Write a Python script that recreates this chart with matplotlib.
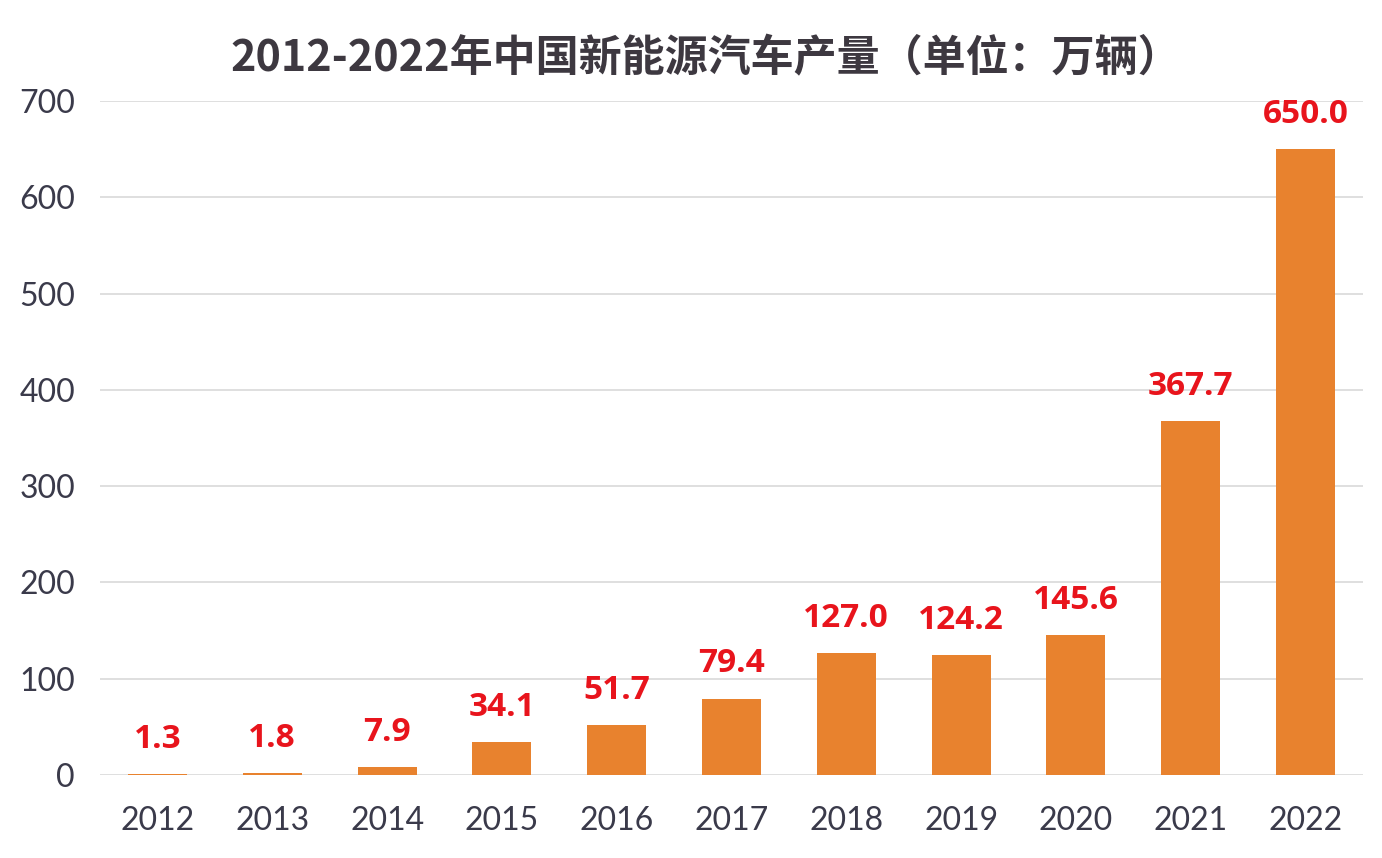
import numpy as np
import matplotlib
matplotlib.use("Agg")
import matplotlib.pyplot as plt

plt.rcParams['font.family'] = ['Noto Sans CJK SC', 'DejaVu Sans']

years = ['2012', '2013', '2014', '2015', '2016', '2017', '2018', '2019', '2020', '2021', '2022']
output = [1.3, 1.8, 7.9, 34.1, 51.7, 79.4, 127.0, 124.2, 145.6, 367.7, 650.0]
yticks = [0, 100, 200, 300, 400, 500, 600, 700]
title = '2012-2022年中国新能源汽车产量（单位：万辆）'

fig = plt.figure(figsize=(13.82, 8.58), dpi=100)
ax = fig.add_axes([0.0724, 0.0967, 0.9138, 0.7856])

x = np.arange(len(years))
ax.bar(x, output, width=0.515, color='#E8822E', zorder=3)
for xi, v in zip(x, output):
    ax.annotate(f'{v:.1f}', (xi, v), xytext=(0, 25), textcoords='offset points',
                ha='center', va='center', color='#E8141C', fontsize=24,
                fontweight='bold', family=['Open Sans', 'DejaVu Sans'])

ax.set_xlim(-0.5, len(years) - 0.5)
ax.set_ylim(0, 700)
ax.set_yticks(yticks)
ax.set_xticks(x)
ax.set_xticklabels(years)
ax.yaxis.grid(True, color='#d9d9d9', linewidth=1.2, zorder=0)
for s in ax.spines.values():
    s.set_visible(False)
ax.tick_params(axis='both', length=0, labelsize=23, labelcolor='#3a3a4a')
ax.tick_params(axis='y', pad=18)
ax.tick_params(axis='x', pad=22)
for lab in ax.get_xticklabels() + ax.get_yticklabels():
    lab.set_family(['Lato', 'DejaVu Sans'])

fig.text(0.511, 0.932, title, ha='center', va='center', fontsize=31,
         fontweight='bold', color='#3d3840')

fig.savefig('out.png', dpi=100)
